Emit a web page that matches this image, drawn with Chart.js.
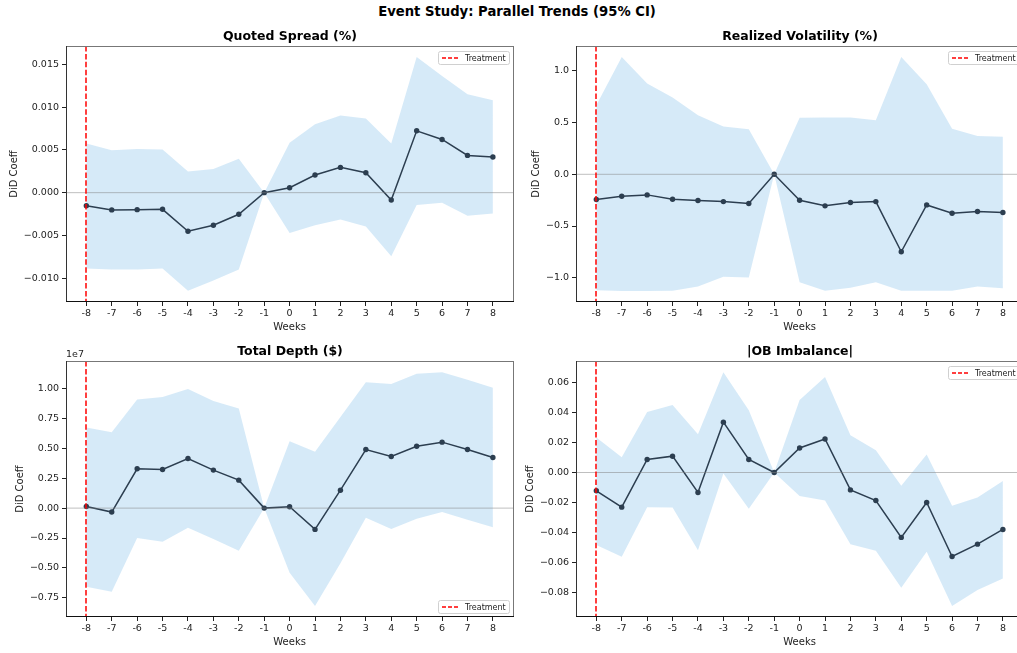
<!DOCTYPE html>
<html>
<head>
<meta charset="utf-8">
<script src="https://cdn.jsdelivr.net/npm/chart.js@4.4.1/dist/chart.umd.min.js"></script>
<style>
    html, body { margin: 0; padding: 0; background: #fff; overflow: hidden; }
    body { width: 1017px; height: 653px; position: relative; }
    canvas { position: absolute; }
    #suptitle {
        position: absolute; left: 0; width: 1034px; top: 4px; text-align: center;
        font: bold 13.2px "DejaVu Sans", sans-serif; color: #000;
    }
</style>
</head>
<body>
<div id="suptitle">Event Study: Parallel Trends (95% CI)</div>
<canvas id="c-spread" width="520" height="313" style="left:0px;top:22px"></canvas>
<canvas id="c-vol" width="520" height="313" style="left:510px;top:22px"></canvas>
<canvas id="c-depth" width="520" height="316" style="left:0px;top:337px"></canvas>
<canvas id="c-ob" width="520" height="316" style="left:510px;top:337px"></canvas>
<script>
const weeks = [-8, -7, -6, -5, -4, -3, -2, -1, 0, 1, 2, 3, 4, 5, 6, 7, 8];
const treatmentWeek = -8;

// Quoted Spread (%)
const spreadCoef = [-0.00152, -0.00202, -0.00199, -0.00195, -0.00452, -0.00382, -0.00253, 0, 0.00058, 0.00206, 0.00296, 0.00234, -0.00086, 0.00724, 0.00623, 0.00436, 0.00417];
const spreadHi = [0.00576, 0.00498, 0.0051, 0.00506, 0.00249, 0.00276, 0.00397, 0, 0.00584, 0.00802, 0.00903, 0.00868, 0.00576, 0.01589, 0.01367, 0.01153, 0.01083];
const spreadLo = [-0.00888, -0.0090, -0.0090, -0.00888, -0.01149, -0.01028, -0.0090, 0, -0.00471, -0.00382, -0.00315, -0.00397, -0.00744, -0.00144, -0.00117, -0.00269, -0.00245];
const spreadTicks = [-0.010, -0.005, 0, 0.005, 0.010, 0.015];

// Realized Volatility (%)
const volCoef = [-0.244, -0.212, -0.199, -0.241, -0.254, -0.264, -0.283, 0, -0.251, -0.305, -0.273, -0.264, -0.749, -0.296, -0.376, -0.360, -0.370];
const volHi = [0.669, 1.135, 0.878, 0.743, 0.572, 0.463, 0.437, 0, 0.547, 0.55, 0.55, 0.524, 1.135, 0.871, 0.441, 0.370, 0.363];
const volLo = [-1.122, -1.129, -1.129, -1.125, -1.084, -0.990, -0.997, 0, -1.045, -1.125, -1.096, -1.045, -1.125, -1.125, -1.125, -1.084, -1.103];
const volTicks = [-1.0, -0.5, 0, 0.5, 1.0];

// Total Depth ($)
const depthCoef = [140000, -330000, 3290000, 3230000, 4150000, 3180000, 2340000, 0, 110000, -1780000, 1500000, 4900000, 4320000, 5180000, 5520000, 4900000, 4230000];
const depthHi = [6740000, 6350000, 9080000, 9300000, 9970000, 8970000, 8330000, 0, 5600000, 4710000, 7630000, 10530000, 10390000, 11250000, 11360000, 10750000, 10080000];
const depthLo = [-6570000, -6990000, -2510000, -2810000, -1640000, -2590000, -3570000, 0, -5400000, -8190000, -4620000, -810000, -1750000, -890000, -330000, -970000, -1590000];
const depthTicks = [-7500000, -5000000, -2500000, 0, 2500000, 5000000, 7500000, 10000000];

// |OB Imbalance|
const obCoef = [-0.0122, -0.0231, 0.0087, 0.0109, -0.0133, 0.0336, 0.0087, 0, 0.0164, 0.0224, -0.0116, -0.0187, -0.0433, -0.0200, -0.0560, -0.0478, -0.0380];
const obHi = [0.0233, 0.0102, 0.0404, 0.0451, 0.0256, 0.0669, 0.0416, 0, 0.0484, 0.0638, 0.0249, 0.0149, -0.0089, 0.012, -0.0222, -0.0167, -0.0056];
const obLo = [-0.0484, -0.0562, -0.0231, -0.0233, -0.0518, -0.0007, -0.0242, 0, -0.0156, -0.0187, -0.0478, -0.0522, -0.0769, -0.0529, -0.0891, -0.0784, -0.0707];
const obTicks = [-0.08, -0.06, -0.04, -0.02, 0, 0.02, 0.04, 0.06];

const FONT = '"DejaVu Sans", sans-serif';
const LINE = '#2c3e50';
const BAND = 'rgba(52, 152, 219, 0.2)';

const pts = (ys) => weeks.map((w, i) => ({ x: w, y: ys[i] }));
const minus = (s) => s.replace('-', '\u2212');

// titles, spines, zero line, treatment line, legend
const decor = {
    id: 'decor',
    afterDatasetsDraw(chart) {
        const o = chart.options.plugins.decor;
        const { ctx, chartArea: a, scales } = chart;
        ctx.save();
        // zero line
        const y0 = scales.y.getPixelForValue(0);
        ctx.strokeStyle = 'rgba(128,128,128,0.5)';
        ctx.lineWidth = 1;
        ctx.beginPath(); ctx.moveTo(a.left, y0); ctx.lineTo(a.right, y0); ctx.stroke();
        // treatment line
        const xt = Math.round(scales.x.getPixelForValue(treatmentWeek));
        ctx.strokeStyle = '#ff0000';
        ctx.lineWidth = 1.5;
        ctx.setLineDash([5.5, 2.4]);
        ctx.beginPath(); ctx.moveTo(xt, a.top); ctx.lineTo(xt, a.bottom); ctx.stroke();
        ctx.setLineDash([]);
        // spines
        ctx.lineWidth = 1;
        ctx.strokeStyle = '#777';
        ctx.beginPath(); ctx.moveTo(a.left, a.top + 0.5); ctx.lineTo(a.right, a.top + 0.5);
        ctx.moveTo(a.right - 0.5, a.top); ctx.lineTo(a.right - 0.5, a.bottom); ctx.stroke();
        ctx.strokeStyle = '#333';
        ctx.beginPath(); ctx.moveTo(a.left + 0.5, a.top); ctx.lineTo(a.left + 0.5, a.bottom); ctx.stroke();
        ctx.strokeStyle = '#111';
        ctx.beginPath(); ctx.moveTo(a.left, a.bottom - 0.5); ctx.lineTo(a.right, a.bottom - 0.5); ctx.stroke();
        // legend
        const lw = 71, lh = 13;
        const lx = a.right - 5 - lw;
        const ly = o.legendBottom ? a.bottom - 4 - lh : a.top + 5;
        ctx.fillStyle = 'rgba(255,255,255,0.8)';
        ctx.strokeStyle = '#d0d0d0';
        ctx.beginPath(); ctx.roundRect(lx + 0.5, ly + 0.5, lw, lh, 2); ctx.fill(); ctx.stroke();
        ctx.strokeStyle = '#ff0000';
        ctx.lineWidth = 1.5;
        ctx.setLineDash([4, 2]);
        ctx.beginPath(); ctx.moveTo(lx + 4, ly + lh / 2 + 0.5); ctx.lineTo(lx + 20, ly + lh / 2 + 0.5); ctx.stroke();
        ctx.setLineDash([]);
        ctx.fillStyle = '#222';
        ctx.font = '8px ' + FONT;
        ctx.textBaseline = 'middle';
        ctx.textAlign = 'left';
        ctx.fillText('Treatment', lx + 27, ly + lh / 2 + 1);
        // subplot title
        ctx.fillStyle = '#000';
        ctx.font = 'bold 12.5px ' + FONT;
        ctx.textAlign = 'center';
        ctx.fillText(o.title, (a.left + a.right) / 2, a.top - 9);
        // axis titles
        ctx.font = '10px ' + FONT;
        ctx.fillStyle = '#222';
        ctx.fillText('Weeks', scales.x.getPixelForValue(0), a.bottom + 25);
        ctx.save();
        ctx.translate(a.left - o.yTitleGap, (a.top + a.bottom) / 2);
        ctx.rotate(-Math.PI / 2);
        ctx.fillText('DiD Coeff', 0, 0);
        ctx.restore();
        if (o.offsetText) {
            ctx.font = '9.5px ' + FONT;
            ctx.textAlign = 'left';
            ctx.textBaseline = 'alphabetic';
            ctx.fillText(o.offsetText, a.left, a.top - 4);
        }
        ctx.restore();
    }
};

function makeChart(id, cfg) {
    const canvas = document.getElementById(id);
    const xAxisH = canvas.height - cfg.plotBottom;
    return new Chart(canvas, {
        type: 'line',
        data: {
            datasets: [{
                data: pts(cfg.coef),
                borderColor: LINE,
                backgroundColor: LINE,
                borderWidth: 1.5,
                pointRadius: 2.7,
                pointBorderWidth: 0,
                fill: false,
                order: 0,
            }, {
                data: pts(cfg.hi),
                borderWidth: 0,
                pointRadius: 0,
                backgroundColor: BAND,
                fill: '+1',
                order: 1,
            }, {
                data: pts(cfg.lo),
                borderWidth: 0,
                pointRadius: 0,
                fill: false,
                order: 2,
            }]
        },
        options: {
            responsive: false,
            animation: false,
            events: [],
            layout: { padding: { top: cfg.plotTop, right: cfg.padRight, left: 0, bottom: 0 } },
            plugins: {
                legend: { display: false },
                tooltip: { enabled: false },
                decor: cfg.decor,
            },
            scales: {
                x: {
                    type: 'linear',
                    min: -8.8,
                    max: 8.83,
                    afterBuildTicks: (axis) => { axis.ticks = weeks.map(v => ({ value: v })); },
                    afterFit: (axis) => { axis.height = xAxisH; },
                    ticks: {
                        autoSkip: false,
                        maxRotation: 0,
                        padding: 2,
                        color: '#222',
                        font: { family: FONT, size: 9.5 },
                        callback: (v) => String(v),
                    },
                    grid: { drawOnChartArea: false, drawTicks: true, tickLength: 4, color: '#222' },
                    border: { display: false },
                },
                y: {
                    min: cfg.yMin,
                    max: cfg.yMax,
                    afterBuildTicks: (axis) => { axis.ticks = cfg.ticks.map(v => ({ value: v })); },
                    afterFit: (axis) => { axis.width = 66; },
                    ticks: {
                        autoSkip: false,
                        padding: 3,
                        color: '#222',
                        font: { family: FONT, size: 9.5 },
                        callback: cfg.fmt,
                    },
                    grid: { drawOnChartArea: false, drawTicks: true, tickLength: 4, color: '#222' },
                    border: { display: false },
                },
            },
        },
        plugins: [decor],
    });
}

makeChart('c-spread', {
    coef: spreadCoef, hi: spreadHi, lo: spreadLo, ticks: spreadTicks,
    yMin: -0.0128, yMax: 0.01717, plotTop: 24, plotBottom: 280, padRight: 6,
    fmt: (v) => minus(v.toFixed(3)),
    decor: { title: 'Quoted Spread (%)', yTitleGap: 52 },
});
makeChart('c-vol', {
    coef: volCoef, hi: volHi, lo: volLo, ticks: volTicks,
    yMin: -1.235, yMax: 1.241, plotTop: 24, plotBottom: 280, padRight: 6,
    fmt: (v) => minus(v.toFixed(1)),
    decor: { title: 'Realized Volatility (%)', yTitleGap: 40 },
});
makeChart('c-depth', {
    coef: depthCoef, hi: depthHi, lo: depthLo, ticks: depthTicks,
    yMin: -9110000, yMax: 12310000, plotTop: 24, plotBottom: 280, padRight: 6,
    fmt: (v) => minus((v / 1e7).toFixed(2)),
    decor: { title: 'Total Depth ($)', yTitleGap: 46, legendBottom: true, offsetText: '1e7' },
});
makeChart('c-ob', {
    coef: obCoef, hi: obHi, lo: obLo, ticks: obTicks,
    yMin: -0.0964, yMax: 0.0744, plotTop: 24, plotBottom: 280, padRight: 6,
    fmt: (v) => minus(v.toFixed(2)),
    decor: { title: '|OB Imbalance|', yTitleGap: 46 },
});
</script>
</body>
</html>
